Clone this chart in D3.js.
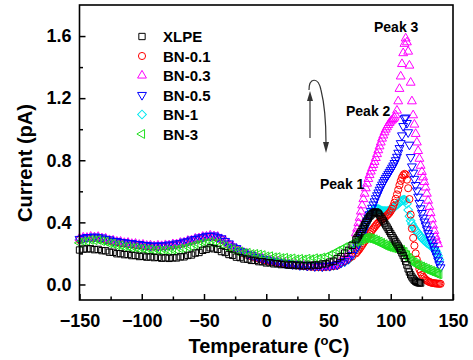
<!DOCTYPE html>
<html><head><meta charset="utf-8">
<script src="https://cdn.jsdelivr.net/npm/d3@7"></script>
<style>body{margin:0;background:#fff}svg{display:block}text{font-family:Arial,"Liberation Sans",sans-serif;font-weight:bold}</style>
</head><body><svg id="c" width="473" height="360"></svg>
<script>
const temps=[-150,-147,-144,-141,-138,-135,-132,-129,-126,-123,-120,-117,-114,-111,-108,-105,-102,-99,-96,-93,-90,-87,-84,-81,-78,-75,-72,-69,-66,-63,-60,-57,-54,-51,-48,-45,-42,-39,-36,-33,-30,-27,-24,-21,-18,-15,-12,-9,-6,-3,0,3,6,9,12,15,18,21,24,27,30,33,36,39,42,45,48,51,54,57,60,63,66,69,72,
73,74,75,76,77,78,79,80,81,82,83,84,85,86,87,88,89,90,91,92,93,94,95,96,97,98,99,100,101,102,103,104,105,106,107,108,109,110,111,112,113,114,115,116,117,118,119,120,121,122,123,124,125,126,127,128,129,130,131,132,133,134,135,136,137,138,139,140];

const xlpe=[.222,.228,.229,.23,.224,.226,.218,.217,.208,.207,.198,.199,.192,.193,.186,.187,.18,.182,.176,.178,.173,.175,.169,.172,.168,.172,.171,.178,.178,.187,.19,.202,.206,.22,.226,.236,.23,.226,.212,.206,.193,.188,.176,.173,.164,.163,.155,.155,.147,.147,.139,.14,.133,.134,.128,.13,.124,.127,.122,.125,.12,.124,.121,.126,.124,.132,.133,.144,.15,.167,.18,.202,.22,.252,.288,
.3,.313,.326,.34,.355,.37,.385,.4,.414,.427,.438,.447,.455,.461,.465,.467,.464,.457,.447,.435,.422,.409,.396,.383,.37,.356,.342,.328,.314,.3,.287,.274,.261,.248,.234,.219,.203,.186,.168,.148,.125,.1,.08,.062,.048,.036,.027,.02,.015,.012,.01,.009,null,null,null,null,null,null,null,null,null,null,null,null,null,null,null,null];

const bn01=[.287,.294,.297,.298,.3,.298,.294,.287,.282,.275,.272,.267,.264,.26,.258,.254,.252,.248,.246,.243,.243,.242,.244,.245,.249,.251,.256,.26,.267,.273,.281,.287,.294,.299,.305,.307,.307,.299,.289,.275,.256,.239,.226,.211,.2,.189,.181,.172,.166,.159,.154,.148,.144,.139,.136,.131,.129,.125,.123,.119,.118,.115,.114,.112,.112,.111,.113,.114,.118,.122,.14,.15,.165,.18,.2,
.21,.22,.23,.242,.254,.266,.278,.29,.302,.314,.326,.338,.35,.36,.37,.38,.39,.398,.405,.412,.418,.424,.43,.437,.445,.453,.462,.473,.487,.505,.527,.552,.58,.61,.64,.667,.688,.703,.712,.708,.675,.62,.55,.45,.36,.3,.25,.2,.16,.125,.098,.078,.062,.05,.04,.032,.025,.02,.016,.013,.011,.009,.008,.007,.006,.005,.005,.004];

const bn03=[.297,.303,.301,.308,.304,.307,.298,.296,.286,.284,.276,.276,.268,.269,.262,.263,.256,.257,.25,.252,.247,.251,.248,.254,.253,.26,.26,.269,.271,.282,.285,.296,.298,.308,.309,.316,.311,.308,.293,.284,.26,.248,.23,.22,.204,.198,.185,.181,.17,.168,.158,.157,.148,.148,.14,.14,.133,.134,.127,.128,.122,.124,.118,.121,.116,.12,.117,.123,.122,.131,.152,.168,.19,.245,.33,
.36,.395,.43,.47,.51,.55,.585,.62,.65,.68,.705,.728,.75,.77,.79,.815,.84,.865,.89,.915,.94,.96,.98,.998,1.013,1.027,1.04,1.05,1.058,1.066,1.075,1.09,1.12,1.18,1.26,1.34,1.42,1.49,1.55,1.585,1.56,1.5,1.41,1.3,1.18,1.09,1.03,.97,.915,.86,.81,.765,.725,.69,.66,.625,.585,.54,.5,.46,.42,.38,.345,.31,.285,.26,null,null];

const bn05=[.293,.298,.305,.303,.308,.303,.302,.292,.29,.28,.28,.272,.272,.265,.266,.259,.26,.253,.254,.248,.251,.247,.252,.25,.257,.256,.264,.265,.275,.278,.289,.292,.302,.304,.313,.312,.315,.304,.297,.28,.264,.244,.234,.216,.208,.194,.189,.177,.174,.164,.162,.153,.152,.144,.144,.136,.137,.13,.131,.124,.126,.12,.122,.117,.12,.116,.121,.119,.126,.127,.14,.15,.165,.19,.23,
.245,.262,.28,.3,.32,.342,.364,.386,.408,.43,.452,.473,.494,.515,.535,.555,.574,.592,.61,.627,.643,.658,.672,.686,.699,.712,.725,.738,.752,.766,.782,.8,.822,.848,.878,.91,.96,1.02,1.07,1.075,1.04,.98,.9,.82,.76,.72,.68,.64,.605,.565,.525,.49,.46,.43,.405,.38,.355,.33,.31,.29,.27,.248,.225,.2,.18,.155,.13,.11];

const bn1=[.29,.296,.3,.302,.303,.302,.297,.291,.285,.279,.275,.271,.267,.264,.261,.258,.255,.252,.249,.247,.246,.246,.247,.249,.252,.255,.259,.264,.27,.277,.284,.291,.297,.303,.308,.311,.31,.303,.292,.279,.259,.243,.229,.215,.203,.193,.184,.176,.169,.163,.157,.152,.147,.143,.139,.135,.132,.129,.126,.123,.121,.119,.117,.116,.115,.115,.116,.118,.121,.126,.135,.145,.16,.185,.225,
.24,.258,.278,.3,.322,.345,.368,.39,.41,.428,.445,.46,.472,.48,.485,.487,.487,.485,.482,.478,.475,.473,.472,.472,.473,.475,.478,.482,.487,.493,.5,.507,.514,.521,.528,.535,.541,.545,.546,.54,.52,.48,.44,.41,.39,.375,.362,.35,.34,.33,.32,.31,.3,.29,.282,.275,.268,.262,.256,.25,.244,.238,.23,.22,.205,.185,.16,null];

const bn3=[.268,.278,.279,.287,.285,.288,.279,.276,.265,.262,.253,.252,.244,.244,.236,.237,.23,.231,.224,.226,.22,.223,.218,.222,.219,.225,.224,.232,.233,.243,.246,.257,.259,.268,.268,.274,.268,.266,.253,.246,.232,.227,.215,.213,.204,.204,.196,.197,.193,.189,.181,.182,.175,.176,.17,.172,.166,.168,.162,.165,.161,.166,.163,.169,.167,.174,.177,.19,.198,.215,.224,.24,.248,.264,.272,
.281,.279,.288,.285,.295,.292,.3,.296,.303,.297,.301,.293,.297,.287,.291,.28,.284,.272,.276,.264,.268,.256,.26,.248,.253,.242,.247,.237,.243,.233,.239,.229,.235,.225,.23,.219,.223,.21,.209,.193,.188,.172,.169,.155,.154,.142,.142,.131,.132,.122,.124,.114,.116,.106,.109,.099,.101,.092,.095,.085,.088,.079,.082,.072,.075,.065,.067,null];

const seriesNames=["XLPE","BN-0.1","BN-0.3","BN-0.5","BN-1","BN-3"];
const xTicks=[-150,-100,-50,0,50,100,150];
const xMinor=[-125,-75,-25,25,75,125];
const yTicks=[0,0.4,0.8,1.2,1.6];
const yMinor=[0.2,0.6,1.0,1.4];
const peakLabels=["Peak 1","Peak 2","Peak 3"];

const svg=d3.select("#c");
const x=d3.scaleLinear().domain([-150,150]).range([79.5,453]);
const y=d3.scaleLinear().domain([-0.1,1.8]).range([300,5]);

const styles=[
 {data:xlpe,color:"#000000",type:d3.symbolSquare,size:40,rot:0},
 {data:bn01,color:"#ff0000",type:d3.symbolCircle,size:40,rot:0},
 {data:bn03,color:"#ff00ff",type:d3.symbolTriangle,size:34,rot:0},
 {data:bn05,color:"#0000ff",type:d3.symbolTriangle,size:34,rot:180},
 {data:bn1,color:"#00e8f0",type:d3.symbolSquare,size:38,rot:45},
 {data:bn3,color:"#1ee01e",type:d3.symbolTriangle,size:34,rot:-90}
];

// data markers (draw order: BN-1, BN-0.1, BN-0.3, BN-0.5, BN-3, XLPE)
const order=[4,1,2,3,5,0];
const plot=svg.append("g");
order.forEach(i=>{
  const s=styles[i];
  const pts=temps.map((t,k)=>({t,v:s.data[k]})).filter(d=>d.v!=null);
  const sym=d3.symbol().type(s.type).size(s.size)();
  plot.append("g").selectAll("path").data(pts).join("path")
    .attr("d",sym)
    .attr("transform",d=>`translate(${x(d.t)},${y(d.v)}) rotate(${s.rot})`)
    .attr("fill","none").attr("stroke",s.color).attr("stroke-width",1);
});

// axes
const fmtY=d3.format(".1f");
const gx=svg.append("g").attr("transform","translate(0,300)")
  .call(d3.axisBottom(x).tickValues(xTicks).tickSize(-6).tickFormat(d3.format("d")));
gx.select(".domain").remove();
gx.selectAll("line").attr("stroke-width",1.5);
gx.selectAll("text").attr("y",27).attr("dy",null).attr("font-size",18).attr("fill","#000");
const gxm=svg.append("g").attr("transform","translate(0,300)")
  .call(d3.axisBottom(x).tickValues(xMinor).tickSize(-3.5).tickFormat(""));
gxm.select(".domain").remove();
gxm.selectAll("line").attr("stroke-width",1.5);

const gy=svg.append("g").attr("transform","translate(79.5,0)")
  .call(d3.axisLeft(y).tickValues(yTicks).tickSize(-6).tickFormat(fmtY));
gy.select(".domain").remove();
gy.selectAll("line").attr("stroke-width",1.5);
gy.selectAll("text").attr("x",-8).attr("font-size",18).attr("fill","#000");
const gym=svg.append("g").attr("transform","translate(79.5,0)")
  .call(d3.axisLeft(y).tickValues(yMinor).tickSize(-3.5).tickFormat(""));
gym.select(".domain").remove();
gym.selectAll("line").attr("stroke-width",1.5);

svg.selectAll(".tick text").attr("font-family","Arial, 'Liberation Sans', sans-serif").attr("font-weight","bold");

// frame
svg.append("rect").attr("x",79.5).attr("y",5).attr("width",373.5).attr("height",295)
  .attr("fill","none").attr("stroke","#000").attr("stroke-width",1.6);

// axis titles
const xt=svg.append("text").attr("x",269).attr("y",353).attr("text-anchor","middle").attr("font-size",20);
xt.append("tspan").text("Temperature (");
xt.append("tspan").text("o").attr("font-size",13).attr("dy",-8);
xt.append("tspan").text("C)").attr("dy",8);
svg.append("text").attr("transform","translate(32,163) rotate(-90)").attr("text-anchor","middle")
  .attr("font-size",20).text("Current (pA)");

// legend
const legY=[36.5,56,75.5,95,114.5,134];
styles.forEach((s,i)=>{
  svg.append("path").attr("d",d3.symbol().type(s.type).size(s.size)())
    .attr("transform",`translate(142,${legY[i]}) rotate(${s.rot})`)
    .attr("fill","none").attr("stroke",s.color).attr("stroke-width",1);
  svg.append("text").attr("x",163).attr("y",legY[i]+5.5).attr("font-size",15).text(seriesNames[i]);
});

// peak labels
svg.append("text").attr("x",320).attr("y",189).attr("font-size",14).text(peakLabels[0]);
svg.append("text").attr("x",346).attr("y",115.5).attr("font-size",14).text(peakLabels[1]);
svg.append("text").attr("x",374).attr("y",32).attr("font-size",14).text(peakLabels[2]);

// curved arrow
const ag=svg.append("g").attr("stroke","#333").attr("fill","none").attr("stroke-width",1.2);
ag.append("path").attr("d","M310,138 L310,100");
ag.append("path").attr("d","M309,90 C309,78 318,76 321,90 C324,102 326,125 326,143");
svg.append("path").attr("d","M307,101 L313,101 L310,91 Z").attr("fill","#333");
svg.append("path").attr("d","M323,142 L329,142 L326,153 Z").attr("fill","#333");
</script></body></html>
